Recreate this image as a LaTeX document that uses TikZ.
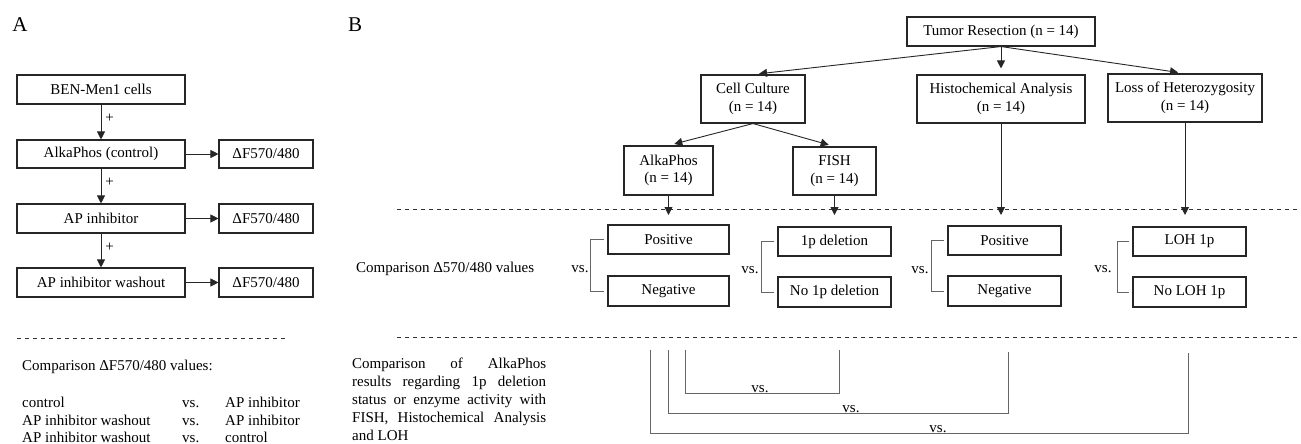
\documentclass[tikz,border=0pt]{standalone}
\usepackage{fontspec}
\setmainfont{Liberation Serif}
\usetikzlibrary{arrows.meta}
\begin{document}
\begin{tikzpicture}[x=1pt,y=-1pt,
  box/.style={draw=black!85, line width=1.1pt, inner sep=0pt, align=center, font=\fontsize{15}{17.5}\selectfont},
  arr/.style={draw=black!85, line width=0.9pt, -{Triangle[length=8pt,width=8pt]}},
  lbl/.style={font=\fontsize{15}{17.5}\selectfont, inner sep=0pt},
  panel/.style={font=\fontsize{21}{24}\selectfont, inner sep=0pt},
  dline/.style={draw=black!80, line width=0.9pt, dash pattern=on 4pt off 4pt},
  brk/.style={draw=black!60, line width=0.9pt},
]
\fill[white] (0,0) rectangle (1301,444);
\useasboundingbox (0,0) rectangle (1301,444);

% ---------------- Panel A ----------------
\node[panel] (labA) at (20,25) {A};
\node[box, minimum width=168pt, minimum height=29pt] (ben) at (101,89.5) {BEN-Men1 cells};
\node[box, minimum width=168pt, minimum height=28pt] (alk) at (101,154) {AlkaPhos (control)};
\node[box, minimum width=168pt, minimum height=29pt] (api) at (101,218.5) {AP inhibitor};
\node[box, minimum width=168pt, minimum height=29pt] (apw) at (101,282.5) {AP inhibitor washout};
\node[box, minimum width=94pt, minimum height=28pt] (d1) at (266,154) {ΔF570/480};
\node[box, minimum width=94pt, minimum height=29pt] (d2) at (266,218.5) {ΔF570/480};
\node[box, minimum width=94pt, minimum height=29pt] (d3) at (266,282.5) {ΔF570/480};

\draw[arr] (ben) -- node[lbl, right=4pt, pos=0.4] {+} (alk);
\draw[arr] (alk) -- node[lbl, right=4pt, pos=0.4] {+} (api);
\draw[arr] (api) -- node[lbl, right=4pt, pos=0.4] {+} (apw);
\draw[arr] (alk) -- (d1);
\draw[arr] (api) -- (d2);
\draw[arr] (apw) -- (d3);

\coordinate (adl) at (17,338);
\coordinate (adr) at (287,338);
\draw[dline] (adl) -- (adr);

\node[lbl, anchor=base west] (acmp) at (22,370) {Comparison ΔF570/480 values:};
\node[lbl, anchor=base west] (r1a) at (22,407) {control};
\node[lbl, anchor=base west] (r1b) at (182,407) {vs.};
\node[lbl, anchor=base west] (r1c) at (225,407) {AP inhibitor};
\node[lbl, anchor=base west] (r2a) at (22,425) {AP inhibitor washout};
\node[lbl, anchor=base west] (r2b) at (182,425) {vs.};
\node[lbl, anchor=base west] (r2c) at (225,425) {AP inhibitor};
\node[lbl, anchor=base west] (r3a) at (22,442) {AP inhibitor washout};
\node[lbl, anchor=base west] (r3b) at (182,442) {vs.};
\node[lbl, anchor=base west] (r3c) at (225,442) {control};

% ---------------- Panel B ----------------
\node[panel] (labB) at (355,25) {B};
\node[box, minimum width=188pt, minimum height=29pt] (tumor) at (1001,31.5) {Tumor Resection (n = 14)};
\node[box, minimum width=104pt, minimum height=48pt] (cell) at (753,99) {Cell Culture\\(n = 14)};
\node[box, minimum width=168pt, minimum height=48pt] (histo) at (1001,99) {Histochemical Analysis\\(n = 14)};
\node[box, minimum width=154pt, minimum height=48pt] (loh) at (1185,98) {Loss of Heterozygosity\\(n = 14)};
\node[box, minimum width=89pt, minimum height=49pt] (alka) at (668.5,170.5) {AlkaPhos\\(n = 14)};
\node[box, minimum width=83pt, minimum height=48pt] (fish) at (834.5,171) {FISH\\(n = 14)};

\draw[arr, shorten >=6pt] (tumor.south) -- (cell.north);
\draw[arr, shorten >=6pt] (tumor.south) -- (histo.north);
\draw[arr, shorten >=7pt] (tumor.south) -- (loh.north);
\draw[arr, shorten >=6pt] (cell.south) -- (alka.north);
\draw[arr, shorten >=6pt] (cell.south) -- (fish.north);

\coordinate (bdl1) at (397,209);
\coordinate (bdr1) at (1301,209);
\draw[dline] (bdl1) -- (bdr1);
\coordinate (tipy) at (0,215);
\draw[arr] (alka.south) -- (alka.south |- tipy);
\draw[arr] (fish.south) -- (fish.south |- tipy);
\draw[arr] (histo.south) -- (histo.south |- tipy);
\draw[arr] (loh.south) -- (loh.south |- tipy);

\node[lbl, anchor=base west] (cmpB) at (356,272) {Comparison Δ570/480 values};

% group 1
\node[box, minimum width=121pt, minimum height=29pt] (pos1) at (668.5,239.5) {Positive};
\node[box, minimum width=121pt, minimum height=30pt] (neg1) at (668.5,291) {Negative};
\draw[brk] ([xshift=-3pt]pos1.west) -- ([xshift=-17pt]pos1.west) -- ([xshift=-17pt]neg1.west) -- ([xshift=-3pt]neg1.west);
\node[lbl, anchor=base] (vs1) at (580,272) {vs.};
% group 2
\node[box, minimum width=113pt, minimum height=29pt] (del) at (834.5,241.5) {1p deletion};
\node[box, minimum width=113pt, minimum height=30pt] (nodel) at (834.5,292) {No 1p deletion};
\draw[brk] ([xshift=-3pt]del.west) -- ([xshift=-16pt]del.west) -- ([xshift=-16pt]nodel.west) -- ([xshift=-3pt]nodel.west);
\node[lbl, anchor=base] (vs2) at (750,273) {vs.};
% group 3
\node[box, minimum width=113pt, minimum height=29pt] (pos3) at (1004.5,240.5) {Positive};
\node[box, minimum width=113pt, minimum height=30pt] (neg3) at (1004.5,291) {Negative};
\draw[brk] ([xshift=-3pt]pos3.west) -- ([xshift=-16pt]pos3.west) -- ([xshift=-16pt]neg3.west) -- ([xshift=-3pt]neg3.west);
\node[lbl, anchor=base] (vs3) at (920,273) {vs.};
% group 4
\node[box, minimum width=113pt, minimum height=29pt] (loh1) at (1189.5,241.5) {LOH 1p};
\node[box, minimum width=113pt, minimum height=30pt] (nloh) at (1189.5,292) {No LOH 1p};
\draw[brk] ([xshift=-3pt]loh1.west) -- ([xshift=-15pt]loh1.west) -- ([xshift=-15pt]nloh.west) -- ([xshift=-3pt]nloh.west);
\node[lbl, anchor=base] (vs4) at (1103,272) {vs.};

\coordinate (bdl2) at (397,337);
\coordinate (bdr2) at (1301,337);
\draw[dline] (bdl2) -- (bdr2);

\node[lbl, anchor=north west, align=left] (txt) at (352,357.5)
  {\makebox[194pt][s]{Comparison of AlkaPhos}\\[0.5pt]
   \makebox[194pt][s]{results regarding 1p deletion}\\[0.5pt]
   \makebox[194pt][s]{status or enzyme activity with}\\[0.5pt]
   \makebox[194pt][s]{FISH, Histochemical Analysis}\\[0.5pt]
   and LOH};

% bottom comparison brackets
\coordinate (o1) at (650,350);  \coordinate (o2) at (650,433);
\coordinate (o3) at (1188,433); \coordinate (o4) at (1188,353);
\draw[brk] (o1) -- (o2) -- (o3) -- (o4);
\coordinate (m1) at (668,350);  \coordinate (m2) at (668,413);
\coordinate (m3) at (1008,413); \coordinate (m4) at (1008,352);
\draw[brk] (m1) -- (m2) -- (m3) -- (m4);
\coordinate (i1) at (685,350);  \coordinate (i2) at (685,393);
\coordinate (i3) at (839,393);  \coordinate (i4) at (839,350);
\draw[brk] (i1) -- (i2) -- (i3) -- (i4);
\node[lbl, anchor=south] (vsb1) at (760,392.5) {vs.};
\node[lbl, anchor=south] (vsb2) at (851,412.5) {vs.};
\node[lbl, anchor=south] (vsb3) at (938,432.5) {vs.};
\end{tikzpicture}
\end{document}
